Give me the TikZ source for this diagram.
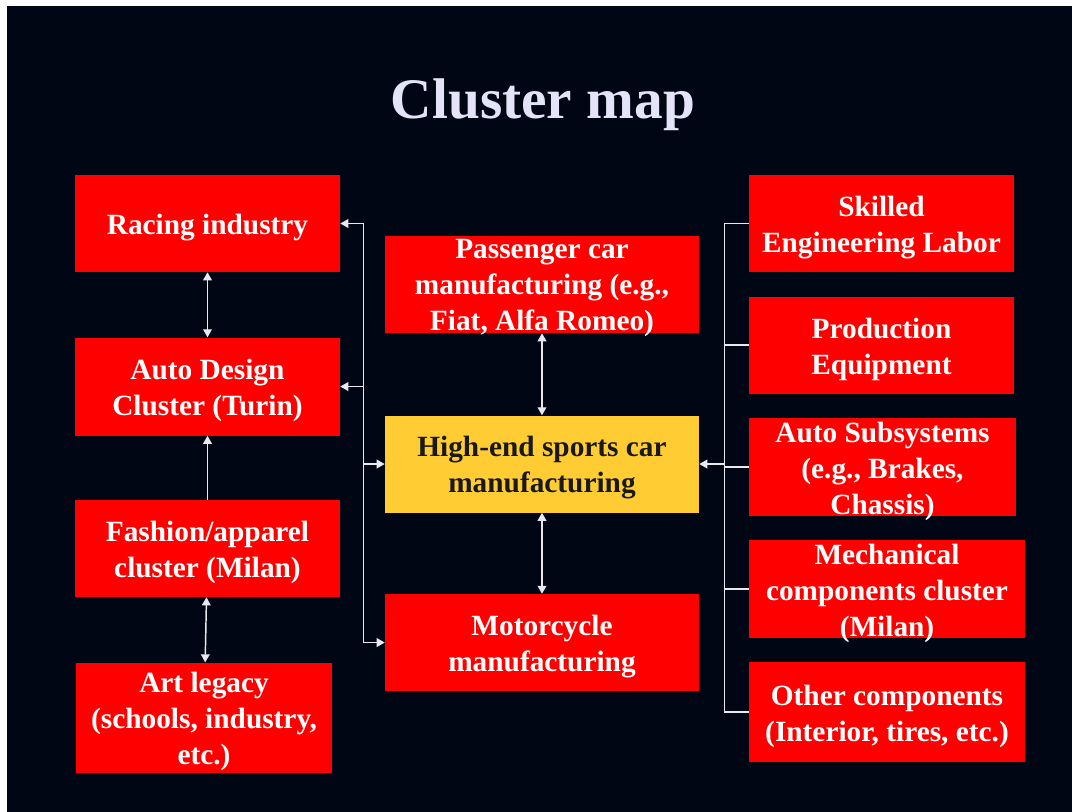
\documentclass[tikz,border=0pt]{standalone}
\usepackage{fontspec}
\setmainfont{Liberation Serif}
\usetikzlibrary{arrows.meta, positioning}
\definecolor{slidebg}{RGB}{0,6,20}
\definecolor{boxred}{RGB}{255,0,0}
\definecolor{boxgold}{RGB}{255,204,51}
\definecolor{titlecol}{RGB}{228,228,248}
\definecolor{linkcol}{RGB}{232,232,238}

\begin{document}
\begin{tikzpicture}[
			x=0.75pt, y=-0.75pt,
			>={Triangle[length=6pt, width=6.5pt]},
			box/.style={fill=boxred, minimum width=198.75pt, minimum height=72.75pt, inner sep=0pt},
			wide/.style={minimum width=235.5pt},
			hot/.style={box, wide, fill=boxgold},
			txt/.style={text=white, font=\bfseries\fontsize{22pt}{27pt}\selectfont, align=center, inner sep=0pt, yshift=-3pt},
			hottxt/.style={txt, text=black!90},
			link/.style={draw=linkcol, line width=1.1pt}
			]
			% --- Tlo slajdu ---
			\fill[white] (0,0) rectangle (1072,812);
			\fill[slidebg] (7,6) rectangle (1072,812);
			\useasboundingbox (0,0) rectangle (1072,812);
			
			% --- Tytul ---
			\node[text=titlecol, font=\bfseries\fontsize{43pt}{50pt}\selectfont] (title) at (543,105) {Cluster map};
			
			% --- Lewa kolumna ---
			\node[box, label={[txt]center:{Racing industry}}] (racing) at (207.5,223.5) {};
			\node[box, minimum height=73.5pt, below=48.75pt of racing, label={[txt]center:{Auto Design\\Cluster (Turin)}}] (design) {};
			\node[box, below=48pt of design, label={[txt]center:{Fashion/apparel\\cluster (Milan)}}] (fashion) {};
			\node[box, minimum width=192pt, minimum height=82.5pt, below=48.75pt of fashion, xshift=-2.6pt, label={[txt]center:{Art legacy\\(schools, industry,\\etc.)}}] (art) {};
			
			% --- Srodkowa kolumna ---
			\node[box, wide, label={[txt]center:{Passenger car\\manufacturing (e.g.,\\Fiat, Alfa Romeo)}}] (passenger) at (542,284.5) {};
			\node[hot, below=61.5pt of passenger, label={[hottxt]center:{High-end sports car\\manufacturing}}] (hiend) {};
			\node[box, wide, below=60.75pt of hiend, label={[txt]center:{Motorcycle\\manufacturing}}] (moto) {};
			
			% --- Prawa kolumna ---
			\node[box, label={[txt]center:{Skilled\\Engineering Labor}}] (skilled) at (881.5,223.5) {};
			\node[box, below=18pt of skilled, label={[txt]center:{Production\\Equipment}}] (equip) {};
			\node[box, minimum width=200.25pt, minimum height=73.5pt, label={[txt]center:{Auto Subsystems\\(e.g., Brakes,\\Chassis)}}] (subsys) at (882.5,467) {};
			\node[box, minimum width=207pt, minimum height=73.5pt, label={[txt]center:{Mechanical\\components cluster\\(Milan)}}] (mech) at (887,589) {};
			\node[box, minimum width=207pt, minimum height=75pt, label={[txt]center:{Other components\\(Interior, tires, etc.)}}] (other) at (887,712) {};
			
			% --- Strzalki w kolumnach ---
			\draw[link, <->] (racing) -- (design);
			\draw[link, ->] (fashion) -- (design);
			\draw[link, <->] (fashion) -- (art);
			\draw[link, <->] (passenger) -- (hiend);
			\draw[link, <->] (hiend) -- (moto);
			
			% --- Lewa magistrala ---
			\path (racing.east) ++(23,0) coordinate (ltop);
			\draw[link, ->] (ltop) |- (moto.west);
			\draw[link, ->] (ltop) -- (racing.east);
			\draw[link, ->] (ltop |- design) -- (design.east);
			\draw[link, ->] (ltop |- hiend) -- (hiend.west);
			
			% --- Prawa magistrala (dostawcy) ---
			\path (skilled.west) ++(-24,0) coordinate (rtop);
			\draw[link] (skilled.west) -- (rtop) |- (other.west);
			\draw[link] (rtop |- equip) -- (equip.west);
			\draw[link] (rtop |- subsys) -- (subsys.west);
			\draw[link] (rtop |- mech) -- (mech.west);
			\draw[link, ->] (rtop |- hiend) -- (hiend.east);
			
		\end{tikzpicture}
\end{document}
